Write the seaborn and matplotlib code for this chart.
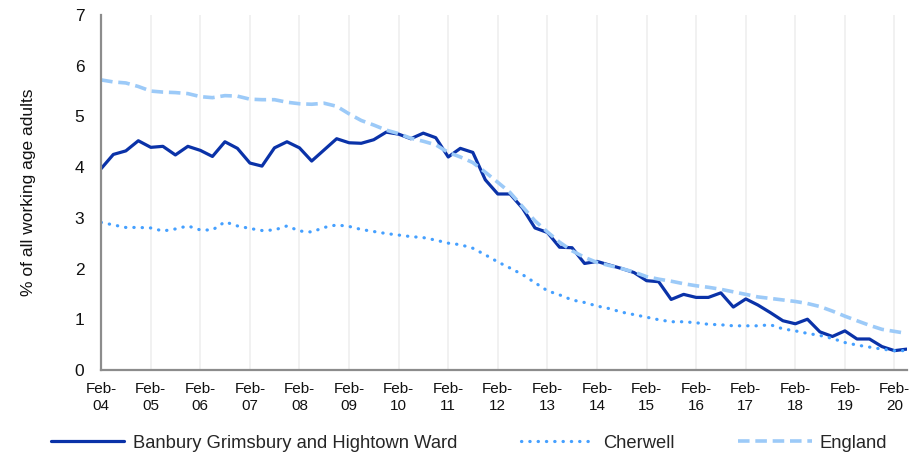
# line chart of % of working age adults, quarterly from Feb-04, with seaborn.

import matplotlib
matplotlib.use('Agg')
import matplotlib.pyplot as plt
import matplotlib.dates as mdates
import pandas as pd
import seaborn as sns

# quarterly values (Feb-04 .. May-20)
banbury = [3.97, 4.25, 4.32, 4.52, 4.39, 4.41, 4.24, 4.41, 4.33, 4.21,
           4.50, 4.37, 4.08, 4.02, 4.38, 4.50, 4.38, 4.12, 4.34, 4.56,
           4.48, 4.47, 4.54, 4.69, 4.65, 4.56, 4.67, 4.58, 4.20, 4.37,
           4.29, 3.75, 3.47, 3.47, 3.19, 2.80, 2.71, 2.42, 2.41, 2.10,
           2.14, 2.07, 2.00, 1.92, 1.76, 1.74, 1.39, 1.49, 1.43, 1.43,
           1.52, 1.24, 1.40, 1.28, 1.13, 0.97, 0.91, 1.00, 0.75, 0.66,
           0.77, 0.61, 0.61, 0.46, 0.38, 0.41]
cherwell = [2.91, 2.86, 2.81, 2.81, 2.80, 2.74, 2.78, 2.84, 2.76, 2.76,
            2.92, 2.84, 2.79, 2.75, 2.76, 2.84, 2.74, 2.72, 2.81, 2.86,
            2.83, 2.77, 2.73, 2.69, 2.66, 2.63, 2.61, 2.56, 2.50, 2.47,
            2.40, 2.27, 2.13, 2.01, 1.88, 1.72, 1.56, 1.48, 1.38, 1.33,
            1.26, 1.21, 1.14, 1.09, 1.04, 0.99, 0.95, 0.95, 0.93, 0.90,
            0.89, 0.87, 0.87, 0.87, 0.89, 0.81, 0.77, 0.72, 0.68, 0.62,
            0.54, 0.49, 0.45, 0.41, 0.38, 0.38]
england = [5.72, 5.68, 5.66, 5.59, 5.50, 5.48, 5.47, 5.45, 5.39, 5.37,
           5.41, 5.40, 5.34, 5.33, 5.33, 5.28, 5.25, 5.24, 5.26, 5.20,
           5.05, 4.92, 4.83, 4.73, 4.66, 4.57, 4.51, 4.44, 4.29, 4.20,
           4.09, 3.90, 3.70, 3.50, 3.22, 2.94, 2.72, 2.52, 2.35, 2.22,
           2.12, 2.06, 2.00, 1.93, 1.84, 1.79, 1.75, 1.70, 1.66, 1.63,
           1.59, 1.54, 1.49, 1.44, 1.41, 1.38, 1.35, 1.31, 1.25, 1.16,
           1.06, 0.97, 0.88, 0.80, 0.76, 0.72]
dates = pd.date_range('2004-02-01', periods=len(banbury), freq='3MS')

df = pd.DataFrame({'date': dates, 'Banbury': banbury,
                   'Cherwell': cherwell, 'England': england})

sns.set_style('white')
plt.rcParams['font.family'] = ['Liberation Sans', 'DejaVu Sans']

fig = plt.figure(figsize=(9.11, 4.55), dpi=100)
ax = fig.add_axes([0.111, 0.187, 0.885, 0.780])

sns.lineplot(x='date', y='Banbury', data=df, ax=ax, color='#0a32a8',
             linewidth=2.3, label='Banbury Grimsbury and Hightown Ward')
sns.lineplot(x='date', y='Cherwell', data=df, ax=ax, color='#45a0ff',
             linewidth=2.3, linestyle=(0, (0.1, 2.5)),
             dash_capstyle='round', label='Cherwell')
sns.lineplot(x='date', y='England', data=df, ax=ax, color='#9ccaf8',
             linewidth=2.6, linestyle=(0, (3.2, 1.6)), label='England')

# axes
ax.set_ylim(0, 7)
ax.set_yticks(range(0, 8))
ax.set_xlim(dates[0], dates[-1] + pd.Timedelta(days=5))
ax.xaxis.set_major_locator(mdates.MonthLocator(bymonth=2))
ax.xaxis.set_major_formatter(mdates.DateFormatter('%b-\n%y'))
ax.set_xlabel('')
ax.set_ylabel('% of all working age adults', fontsize=12.5, color='#111111',
              labelpad=28)

ax.grid(axis='x', color='#f0f0f0', linewidth=1.3)
ax.grid(axis='y', visible=False)
for side in ['top', 'right']:
    ax.spines[side].set_visible(False)
for side in ['left', 'bottom']:
    ax.spines[side].set_color('#8c8c8c')
    ax.spines[side].set_linewidth(1.6)
ax.tick_params(axis='both', which='major', direction='out',
               width=1.4, color='#8c8c8c', labelcolor='#111111')
ax.tick_params(axis='y', length=5, pad=7, labelsize=12.5)
ax.tick_params(axis='x', length=3, pad=6, labelsize=11)

# legend below
handles, labels = ax.get_legend_handles_labels()
ax.get_legend().remove()
fig.legend(handles, labels, loc='center', bbox_to_anchor=(0.515, 0.026),
           ncol=3, frameon=False, fontsize=13.2, handlelength=4.0,
           handletextpad=0.45, columnspacing=3.5)

fig.savefig('out.png', dpi=100)
